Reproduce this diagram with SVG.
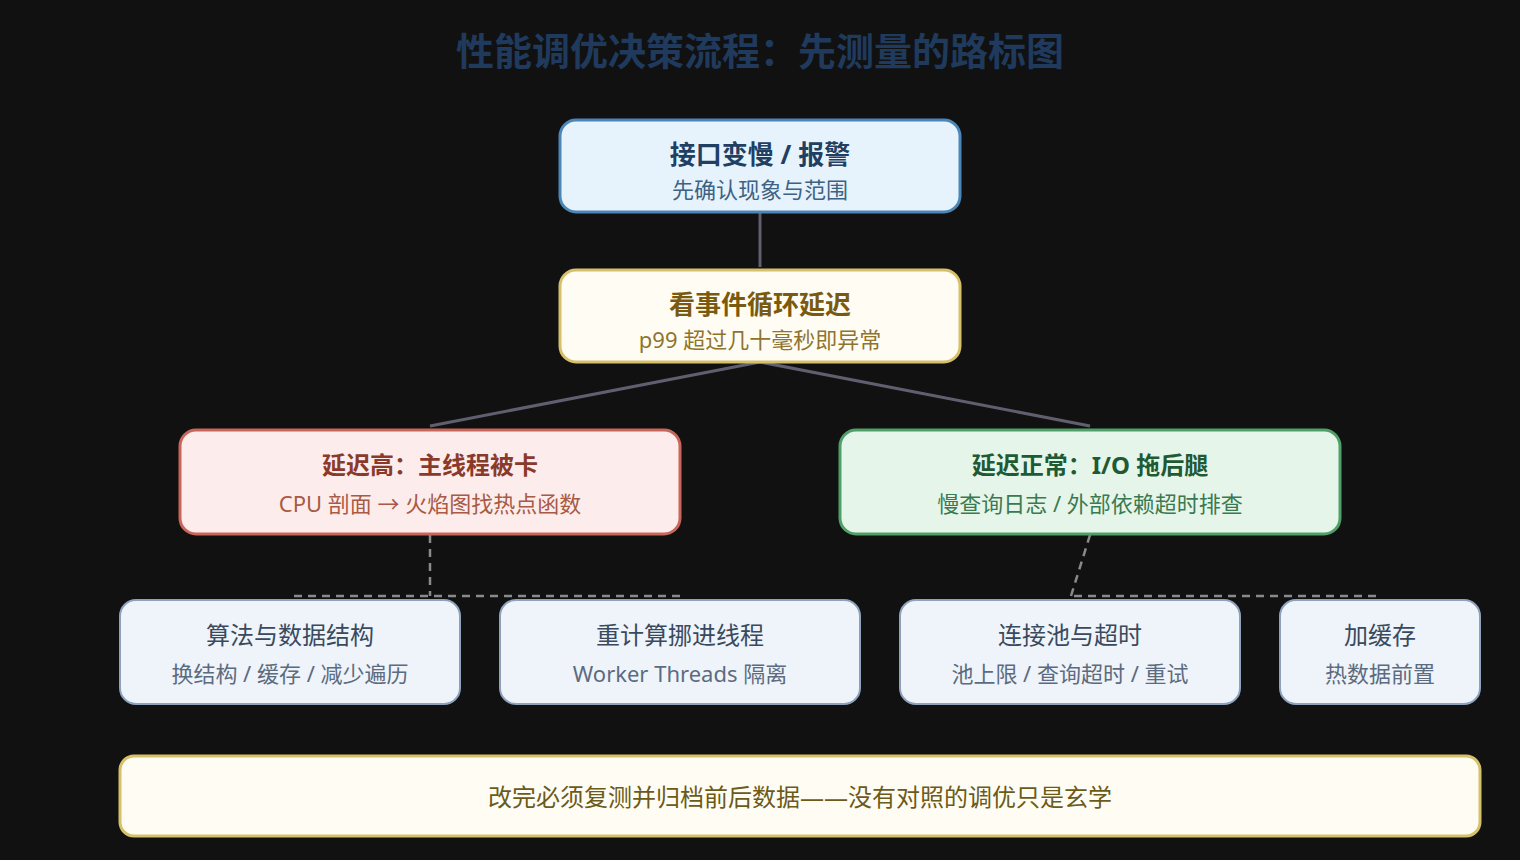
<svg xmlns="http://www.w3.org/2000/svg" width="1520" height="860" viewBox="0 0 1520 860">
<style>
text{font-family:"Noto Sans","Noto Sans CJK SC",sans-serif;text-anchor:middle}
.t{font-weight:700;font-size:26px}
.t2{font-weight:700;font-size:24px}
.s{font-size:22px}
.ct{font-size:24px;fill:#3a4a5e}
.cs{font-size:22px;fill:#5c6b80}
.child{fill:#eef4fa;stroke:#8ea3bb;stroke-width:2}
.solid{stroke:#5f5f70;stroke-width:3;fill:none}
.dash{stroke:#8a8a8a;stroke-width:2.5;fill:none;stroke-dasharray:8 6}
</style>
<rect width="1520" height="860" fill="#111111"/>
<text x="760" y="65" font-size="38" font-weight="700" fill="#1f3a5c">性能调优决策流程：先测量的路标图</text>
<g id="connectors">
<line class="solid" x1="760" y1="213" x2="760" y2="267"/>
<line class="solid" x1="760" y1="362" x2="430" y2="426"/>
<line class="solid" x1="760" y1="362" x2="1090" y2="426"/>
<path class="dash" d="M430,535 V596"/>
<path class="dash" d="M294,596 H680"/>
<path class="dash" d="M1090,535 L1071,596"/>
<path class="dash" d="M1074,596 H1380"/>
</g>
<g id="n-alert">
<rect x="560" y="120" width="400" height="92" rx="16" fill="#e6f3fd" stroke="#4a86b8" stroke-width="3"/>
<text class="t" x="760" y="164" fill="#1f3f63">接口变慢 / 报警</text>
<text class="s" x="760" y="198" fill="#3d6282">先确认现象与范围</text>
</g>
<g id="n-loop">
<rect x="560" y="270" width="400" height="92" rx="16" fill="#fffdf3" stroke="#d6c06a" stroke-width="3"/>
<text class="t" x="760" y="314" fill="#7a5a10">看事件循环延迟</text>
<text class="s" x="760" y="348" fill="#8f7430">p99 超过几十毫秒即异常</text>
</g>
<g id="n-high">
<rect x="180" y="430" width="500" height="104" rx="16" fill="#fdecec" stroke="#c8665a" stroke-width="3"/>
<text class="t2" x="430" y="474" fill="#8a3a2a">延迟高：主线程被卡</text>
<text class="s" x="430" y="512" fill="#a85a45">CPU 剖面 → 火焰图找热点函数</text>
</g>
<g id="n-normal">
<rect x="840" y="430" width="500" height="104" rx="16" fill="#e6f5ea" stroke="#4fa068" stroke-width="3"/>
<text class="t2" x="1090" y="474" fill="#1e5a33">延迟正常：I/O 拖后腿</text>
<text class="s" x="1090" y="512" fill="#3a7a50">慢查询日志 / 外部依赖超时排查</text>
</g>
<g id="n-algo">
<rect class="child" x="120" y="600" width="340" height="104" rx="16"/>
<text class="ct" x="290" y="644">算法与数据结构</text>
<text class="cs" x="290" y="682">换结构 / 缓存 / 减少遍历</text>
</g>
<g id="n-worker">
<rect class="child" x="500" y="600" width="360" height="104" rx="16"/>
<text class="ct" x="680" y="644">重计算挪进线程</text>
<text class="cs" x="680" y="682">Worker Threads 隔离</text>
</g>
<g id="n-pool">
<rect class="child" x="900" y="600" width="340" height="104" rx="16"/>
<text class="ct" x="1070" y="644">连接池与超时</text>
<text class="cs" x="1070" y="682">池上限 / 查询超时 / 重试</text>
</g>
<g id="n-cache">
<rect class="child" x="1280" y="600" width="200" height="104" rx="16"/>
<text class="ct" x="1380" y="644">加缓存</text>
<text class="cs" x="1380" y="682">热数据前置</text>
</g>
<g id="n-note">
<rect x="120" y="756" width="1360" height="80" rx="14" fill="#fffdf3" stroke="#d6c06a" stroke-width="3"/>
<text x="800" y="806" font-size="24" fill="#6b5a1a">改完必须复测并归档前后数据——没有对照的调优只是玄学</text>
</g>
</svg>
